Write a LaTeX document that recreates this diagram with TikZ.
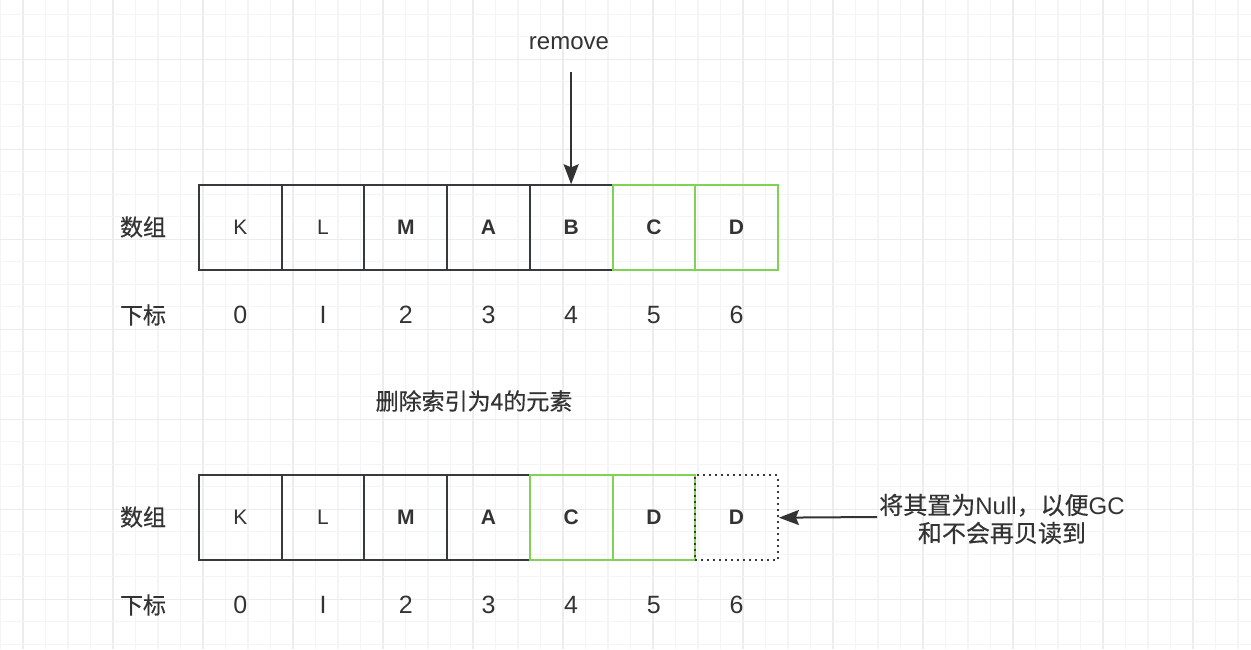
\documentclass[tikz,border=0pt]{standalone}
\usepackage{fontspec}
\setmainfont{Liberation Sans}
\newfontfamily\cjk[FakeBold=0.5]{Noto Sans CJK SC}
\usetikzlibrary{arrows.meta}
\definecolor{ink}{HTML}{333333}
\definecolor{boxline}{HTML}{36393D}
\definecolor{grn}{RGB}{126,211,85}
\definecolor{gminor}{HTML}{F4F4F4}
\definecolor{gmajor}{HTML}{ECECEC}
\tikzset{myhead/.tip={Stealth[length=20pt,width=15pt,inset=3pt]}}
\begin{document}
\begin{tikzpicture}[x=1pt,y=-1pt,
  cell/.style={draw=boxline, line width=2pt, minimum width=82.7pt, minimum height=84.7pt,
    inner sep=0pt, anchor=north west, text=ink, font=\fontsize{21}{24}\selectfont},
  gcell/.style={cell, draw=grn},
  dcell/.style={cell, line width=2pt, dash pattern=on 2pt off 4pt},
  bl/.style={font=\fontsize{21}{24}\selectfont\bfseries},
  idx/.style={text=ink, font=\fontsize{25}{28}\selectfont, inner sep=0pt},
  lbl/.style={text=ink, font=\cjk\fontsize{23}{28}\selectfont, inner sep=0pt},
  note/.style={text=ink, font=\fontsize{24}{28}\selectfont, inner sep=0pt, align=center},
  arr/.style={draw=ink, line width=2pt, -myhead}
]
% background and grid
\fill[white] (0,0) rectangle (1251,649);
\useasboundingbox (0,0) rectangle (1251,649);
\foreach \k in {0,...,55} {
  \pgfmathsetmacro{\xx}{0.5+22.5*\k}
  \pgfmathtruncatemacro{\m}{mod(\k,4)}
  \ifnum\m=1 \draw[gmajor, line width=1.2pt] (\xx,0) -- (\xx,649);
  \else \draw[gminor, line width=1.2pt] (\xx,0) -- (\xx,649); \fi
}
\foreach \k in {0,...,28} {
  \pgfmathsetmacro{\yy}{14.3+22.5*\k}
  \pgfmathtruncatemacro{\m}{mod(\k,4)}
  \ifnum\m=2 \draw[gmajor, line width=1.2pt] (0,\yy) -- (1251,\yy);
  \else \draw[gminor, line width=1.2pt] (0,\yy) -- (1251,\yy); \fi
}

% top array
\node[lbl] (la1) at (143,227) {数组};
\node[lbl] (li1) at (143,315) {下标};
\node[cell]  (a0) at (198.0,184.3) {K};
\node[cell]  (a1) at (280.7,184.3) {L};
\node[cell,bl]  (a2) at (363.4,184.3) {M};
\node[cell,bl]  (a3) at (446.1,184.3) {A};
\node[cell,bl]  (a4) at (528.8,184.3) {B};
\node[gcell,bl] (a5) at (611.5,184.3) {C};
\node[gcell,bl] (a6) at (694.2,184.3) {D};
\foreach \i/\t in {0/0,1/I,2/2,3/3,4/4,5/5,6/6} {
  \node[idx] (ta\i) at (a\i.center |- 0,315) {\t};
}
\node[note] (rm) at (569,43) {remove};
\coordinate (rms) at (a4.north |- 0,72);
\draw[arr] (rms) -- (a4.north);

\node[lbl] (cap) at (474,401) {删除索引为4的元素};

% bottom array
\node[lbl] (la2) at (143,517) {数组};
\node[lbl] (li2) at (143,605) {下标};
\node[cell]  (b0) at (198.0,474.3) {K};
\node[cell]  (b1) at (280.7,474.3) {L};
\node[cell,bl]  (b2) at (363.4,474.3) {M};
\node[cell,bl]  (b3) at (446.1,474.3) {A};
\node[gcell,bl] (b4) at (528.8,474.3) {C};
\node[gcell,bl] (b5) at (611.5,474.3) {D};
\node[dcell,bl] (b6) at (694.2,474.3) {D};
\foreach \i/\t in {0/0,1/I,2/2,3/3,4/4,5/5,6/6} {
  \node[idx] (tb\i) at (b\i.center |- 0,605) {\t};
}
\node[note] (nt) at (1002,519) {{\cjk 将其置为}Null{\cjk ，以便}GC\\{\cjk 和不会再贝读到}};
\coordinate (nts) at (877,517);
\draw[arr] (nts) -- (b6.east);
\end{tikzpicture}
\end{document}
